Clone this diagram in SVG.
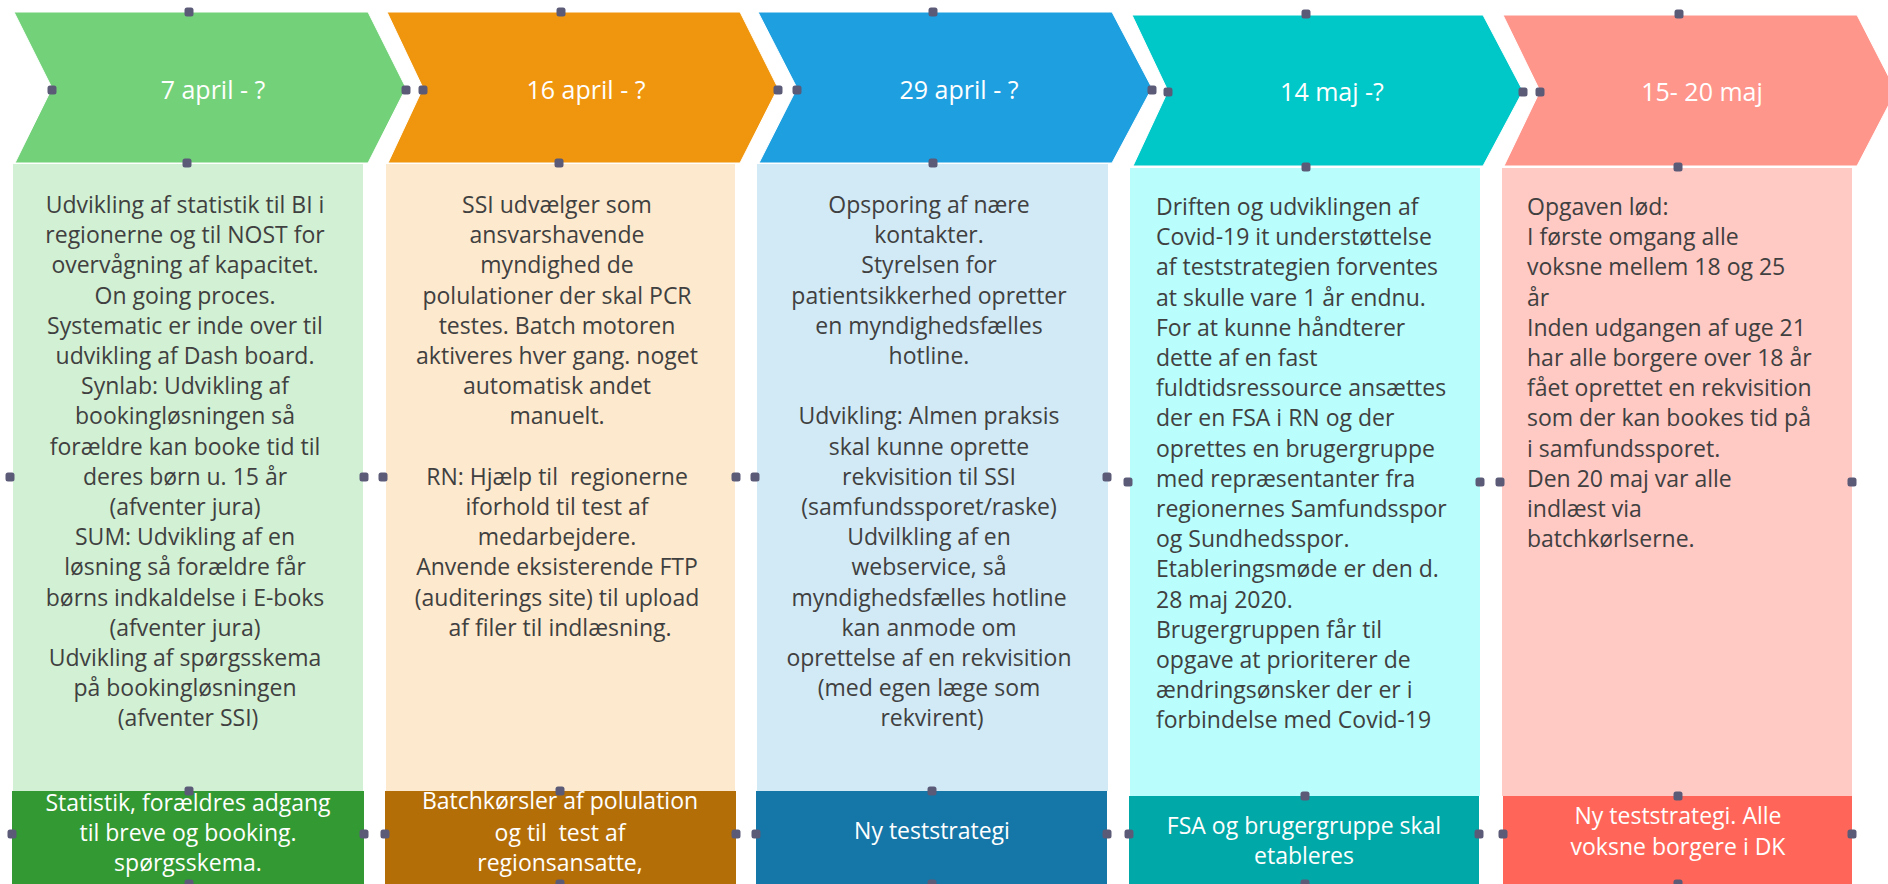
<svg xmlns="http://www.w3.org/2000/svg" width="1888" height="884" viewBox="0 0 1888 884">
<style>
.hd{font-family:"Open Sans","Noto Sans",sans-serif;font-size:25px;fill:#ffffff;text-anchor:middle}
.bt{font-family:"Open Sans","Noto Sans",sans-serif;font-size:23px;fill:#404040}
.c{text-anchor:middle}
.ot{font-family:"Open Sans","Noto Sans",sans-serif;font-size:23px;fill:#ffffff;text-anchor:middle}
.dot{fill:#5B5B78}
.chev{stroke:#ffffff;stroke-width:1}
</style>
<defs>
<rect id="h" x="-4.5" y="-4.5" width="9" height="9" rx="2.5" class="dot"/>
</defs>
<rect width="1888" height="884" fill="#ffffff"/>

<!-- Column 1 -->
<g id="step1">
<polygon class="chev" fill="#73D17A" points="14,12 368,12 406,88 368,163 15,163 52,88"/>
<text class="hd" x="213" y="99">7 april - ?</text>
</g>
<g id="body1">
<rect x="13" y="164" width="350" height="627" fill="#D2F0D4"/>
<text class="bt c">
<tspan x="188" y="213">Udvikling af statistik til BI i</tspan>
<tspan x="188" dy="30.2">regionerne og til NOST for</tspan>
<tspan x="188" dy="30.2">overvågning af kapacitet.</tspan>
<tspan x="188" dy="30.2">On going proces.</tspan>
<tspan x="188" dy="30.2">Systematic er inde over til</tspan>
<tspan x="188" dy="30.2">udvikling af Dash board.</tspan>
<tspan x="188" dy="30.2">Synlab: Udvikling af</tspan>
<tspan x="188" dy="30.2">bookingløsningen så</tspan>
<tspan x="188" dy="30.2">forældre kan booke tid til</tspan>
<tspan x="188" dy="30.2">deres børn u. 15 år</tspan>
<tspan x="188" dy="30.2">(afventer jura)</tspan>
<tspan x="188" dy="30.2">SUM: Udvikling af en</tspan>
<tspan x="188" dy="30.2">løsning så forældre får</tspan>
<tspan x="188" dy="30.2">børns indkaldelse i E-boks</tspan>
<tspan x="188" dy="30.2">(afventer jura)</tspan>
<tspan x="188" dy="30.2">Udvikling af spørgsskema</tspan>
<tspan x="188" dy="30.2">på bookingløsningen</tspan>
<tspan x="188" dy="30.2">(afventer SSI)</tspan>
</text>
</g>
<g id="outcome1">
<rect x="12" y="791" width="352" height="93" fill="#339933"/>
<text class="ot"><tspan x="188" y="811">Statistik, forældres adgang</tspan><tspan x="188" y="841">til breve og booking.</tspan><tspan x="188" y="871">spørgsskema.</tspan></text>
</g>

<!-- Column 2 -->
<g id="step2">
<polygon class="chev" fill="#F0960E" points="387,12 740,12 778,88 740,163 388,163 423,88"/>
<text class="hd" x="586" y="99">16 april - ?</text>
</g>
<g id="body2">
<rect x="386" y="164" width="349" height="627" fill="#FDE9CD"/>
<text class="bt c">
<tspan x="560" y="213">SSI udvælger som</tspan>
<tspan x="560" dy="30.2">ansvarshavende</tspan>
<tspan x="560" dy="30.2">myndighed de</tspan>
<tspan x="560" dy="30.2">polulationer der skal PCR</tspan>
<tspan x="560" dy="30.2">testes. Batch motoren</tspan>
<tspan x="560" dy="30.2">aktiveres hver gang. noget</tspan>
<tspan x="560" dy="30.2">automatisk andet</tspan>
<tspan x="560" dy="30.2">manuelt.</tspan>
<tspan x="560" dy="60.4">RN: Hjælp til&#160; regionerne</tspan>
<tspan x="560" dy="30.2">iforhold til test af</tspan>
<tspan x="560" dy="30.2">medarbejdere.</tspan>
<tspan x="560" dy="30.2">Anvende eksisterende FTP</tspan>
<tspan x="560" dy="30.2">(auditerings site) til upload</tspan>
<tspan x="560" dy="30.2">af filer til indlæsning.</tspan>
</text>
</g>
<g id="outcome2">
<rect x="385" y="791" width="351" height="93" fill="#B36E08"/>
<text class="ot"><tspan x="560" y="809">Batchkørsler af polulation</tspan><tspan x="560" y="841">og til&#160; test af</tspan><tspan x="560" y="871">regionsansatte,</tspan></text>
</g>

<!-- Column 3 -->
<g id="step3">
<polygon class="chev" fill="#1E9FE0" points="758,12 1112,12 1152,88 1112,163 759,163 797,88"/>
<text class="hd" x="959" y="99">29 april - ?</text>
</g>
<g id="body3">
<rect x="757" y="164" width="351" height="627" fill="#D1EAF6"/>
<text class="bt c">
<tspan x="932" y="213">Opsporing af nære</tspan>
<tspan x="932" dy="30.2">kontakter.</tspan>
<tspan x="932" dy="30.2">Styrelsen for</tspan>
<tspan x="932" dy="30.2">patientsikkerhed opretter</tspan>
<tspan x="932" dy="30.2">en myndighedsfælles</tspan>
<tspan x="932" dy="30.2">hotline.</tspan>
<tspan x="932" dy="60.4">Udvikling: Almen praksis</tspan>
<tspan x="932" dy="30.2">skal kunne oprette</tspan>
<tspan x="932" dy="30.2">rekvisition til SSI</tspan>
<tspan x="932" dy="30.2">(samfundssporet/raske)</tspan>
<tspan x="932" dy="30.2">Udvilkling af en</tspan>
<tspan x="932" dy="30.2">webservice, så</tspan>
<tspan x="932" dy="30.2">myndighedsfælles hotline</tspan>
<tspan x="932" dy="30.2">kan anmode om</tspan>
<tspan x="932" dy="30.2">oprettelse af en rekvisition</tspan>
<tspan x="932" dy="30.2">(med egen læge som</tspan>
<tspan x="932" dy="30.2">rekvirent)</tspan>
</text>
</g>
<g id="outcome3">
<rect x="756" y="791" width="351" height="93" fill="#1577A8"/>
<text class="ot"><tspan x="932" y="839">Ny teststrategi</tspan></text>
</g>

<!-- Column 4 -->
<g id="step4">
<polygon class="chev" fill="#00C8C8" points="1132,15 1483,15 1523,91 1483,166 1133,166 1168,91"/>
<text class="hd" x="1332" y="101">14 maj -?</text>
</g>
<g id="body4">
<rect x="1130" y="168" width="350" height="628" fill="#B9FDFC"/>
<text class="bt">
<tspan x="1156" y="215">Driften og udviklingen af</tspan>
<tspan x="1156" dy="30.2">Covid-19 it understøttelse</tspan>
<tspan x="1156" dy="30.2">af teststrategien forventes</tspan>
<tspan x="1156" dy="30.2">at skulle vare 1 år endnu.</tspan>
<tspan x="1156" dy="30.2">For at kunne håndterer</tspan>
<tspan x="1156" dy="30.2">dette af en fast</tspan>
<tspan x="1156" dy="30.2">fuldtidsressource ansættes</tspan>
<tspan x="1156" dy="30.2">der en FSA i RN og der</tspan>
<tspan x="1156" dy="30.2">oprettes en brugergruppe</tspan>
<tspan x="1156" dy="30.2">med repræsentanter fra</tspan>
<tspan x="1156" dy="30.2">regionernes Samfundsspor</tspan>
<tspan x="1156" dy="30.2">og Sundhedsspor.</tspan>
<tspan x="1156" dy="30.2">Etableringsmøde er den d.</tspan>
<tspan x="1156" dy="30.2">28 maj 2020.</tspan>
<tspan x="1156" dy="30.2">Brugergruppen får til</tspan>
<tspan x="1156" dy="30.2">opgave at prioriterer de</tspan>
<tspan x="1156" dy="30.2">ændringsønsker der er i</tspan>
<tspan x="1156" dy="30.2">forbindelse med Covid-19</tspan>
</text>
</g>
<g id="outcome4">
<rect x="1129" y="796" width="350" height="88" fill="#00A9A8"/>
<text class="ot"><tspan x="1304" y="834">FSA og brugergruppe skal</tspan><tspan x="1304" y="864">etableres</tspan></text>
</g>

<!-- Column 5 -->
<g id="step5">
<polygon class="chev" fill="#FF968C" points="1503,15 1857,15 1896,91 1857,166 1504,166 1540,91"/>
<text class="hd" x="1702" y="101">15- 20 maj</text>
</g>
<g id="body5">
<rect x="1502" y="168" width="350" height="628" fill="#FFC9C4"/>
<text class="bt">
<tspan x="1527" y="215">Opgaven lød:</tspan>
<tspan x="1527" dy="30.2">I første omgang alle</tspan>
<tspan x="1527" dy="30.2">voksne mellem 18 og 25</tspan>
<tspan x="1527" dy="30.2">år</tspan>
<tspan x="1527" dy="30.2">Inden udgangen af uge 21</tspan>
<tspan x="1527" dy="30.2">har alle borgere over 18 år</tspan>
<tspan x="1527" dy="30.2">fået oprettet en rekvisition</tspan>
<tspan x="1527" dy="30.2">som der kan bookes tid på</tspan>
<tspan x="1527" dy="30.2">i samfundssporet.</tspan>
<tspan x="1527" dy="30.2">Den 20 maj var alle</tspan>
<tspan x="1527" dy="30.2">indlæst via</tspan>
<tspan x="1527" dy="30.2">batchkørlserne.</tspan>
</text>
</g>
<g id="outcome5">
<rect x="1503" y="796" width="349" height="88" fill="#FF6659"/>
<text class="ot"><tspan x="1678" y="824">Ny teststrategi. Alle</tspan><tspan x="1678" y="855">voksne borgere i DK</tspan></text>
</g>

<g id="connectors"></g>

<!-- connection-point handles -->
<g id="handles">
<use href="#h" x="189" y="12"/><use href="#h" x="52" y="90"/><use href="#h" x="406" y="90"/><use href="#h" x="187" y="163"/>
<use href="#h" x="561" y="12"/><use href="#h" x="423" y="90"/><use href="#h" x="778" y="90"/><use href="#h" x="559" y="163"/>
<use href="#h" x="933" y="12"/><use href="#h" x="797" y="90"/><use href="#h" x="1152" y="90"/><use href="#h" x="933" y="163"/>
<use href="#h" x="1306" y="14"/><use href="#h" x="1168" y="92"/><use href="#h" x="1523" y="92"/><use href="#h" x="1306" y="167"/>
<use href="#h" x="1679" y="14"/><use href="#h" x="1540" y="92"/><use href="#h" x="1678" y="167"/>
<use href="#h" x="10" y="477"/><use href="#h" x="364" y="477"/>
<use href="#h" x="383" y="477"/><use href="#h" x="736" y="477"/>
<use href="#h" x="755" y="477"/><use href="#h" x="1107" y="477"/>
<use href="#h" x="1128" y="482"/><use href="#h" x="1480" y="482"/>
<use href="#h" x="1500" y="482"/><use href="#h" x="1852" y="482"/>
<use href="#h" x="189" y="791"/><use href="#h" x="12" y="834"/><use href="#h" x="364" y="834"/><use href="#h" x="189" y="884"/>
<use href="#h" x="560" y="791"/><use href="#h" x="385" y="834"/><use href="#h" x="736" y="834"/><use href="#h" x="560" y="884"/>
<use href="#h" x="932" y="791"/><use href="#h" x="756" y="834"/><use href="#h" x="1107" y="834"/><use href="#h" x="932" y="884"/>
<use href="#h" x="1305" y="796"/><use href="#h" x="1129" y="834"/><use href="#h" x="1479" y="834"/><use href="#h" x="1305" y="884"/>
<use href="#h" x="1678" y="796"/><use href="#h" x="1503" y="834"/><use href="#h" x="1852" y="834"/><use href="#h" x="1678" y="884"/>
</g>
</svg>
